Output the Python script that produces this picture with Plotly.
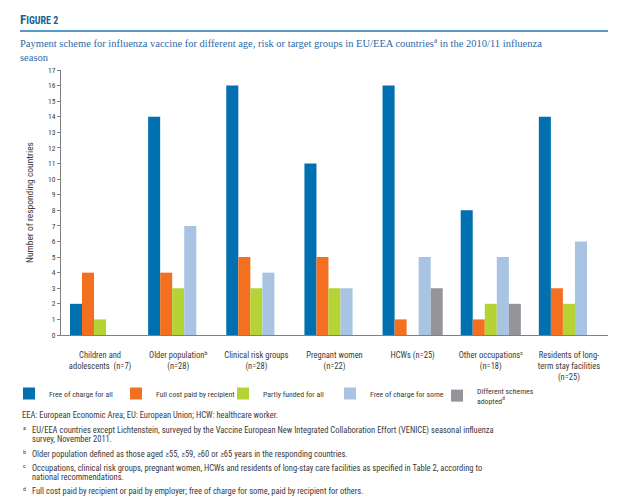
import plotly.graph_objects as go

categories = [
    "Children and<br>adolescents  (n=7)",
    "Older population<sup>b</sup><br>(n=28)",
    "Clinical risk groups<br>(n=28)",
    "Pregnant women<br>(n=22)",
    "HCWs (n=25)",
    "Other occupations<sup>c</sup><br>(n=18)",
    "Residents of long-<br>term stay facilities<br>(n=25)",
]
series_names = [
    "Free of charge for all",
    "Full cost paid by recipient",
    "Partly funded for all",
    "Free of charge for some",
    "Different schemes<br>adopted<sup>d</sup>",
]
free_all = [2, 14, 16, 11, 16, 8, 14]
full_cost = [4, 4, 5, 5, 1, 1, 3]
partly = [1, 3, 3, 3, 0, 2, 2]
free_some = [0, 7, 4, 3, 5, 5, 6]
different = [0, 0, 0, 0, 3, 2, 0]
series_values = [free_all, full_cost, partly, free_some, different]
colors = ["#0070b0", "#f37021", "#b5d334", "#a8c4e2", "#939598"]
y_ticks = list(range(0, 18))

footnote_marks = ["", "a", "", "b", "c", "", "d"]
footnote_texts = [
    "EEA: European Economic Area; EU: European Union; HCW: healthcare worker.",
    "EU/EEA countries except Lichtenstein, surveyed by the Vaccine European New Integrated Collaboration Effort (VENICE) seasonal influenza",
    "survey, November 2011.",
    "Older population defined as those aged ≥55, ≥59, ≥60 or ≥65 years in the responding countries.",
    "Occupations, clinical risk groups, pregnant women, HCWs and residents of long-stay care facilities as specified in Table 2, according to",
    "national recommendations.",
    "Full cost paid by recipient or paid by employer; free of charge for some, paid by recipient for others.",
]

FONT = "Liberation Sans Narrow, Roboto Condensed, Liberation Sans, sans-serif"
TXT = "#3a3a3a"
W, H = 634, 497
H_PLOT = 265.0
def py(Y):
    return (335 - Y) / H_PLOT
def px(X):
    return (X - 61) / 547.0

fig = go.Figure()
for name, vals, col in zip(series_names, series_values, colors):
    fig.add_trace(go.Bar(x=categories, y=vals, name=name, marker=dict(color=col, line=dict(width=0))))

fig.update_layout(
    width=W, height=H,
    margin=dict(l=61, r=26, t=70, b=162, autoexpand=False),
    paper_bgcolor="white", plot_bgcolor="white",
    barmode="group", bargap=0.23, bargroupgap=0,
    font=dict(family=FONT, size=9, color=TXT),
    showlegend=True,
    legend=dict(orientation="h", xref="container", yref="container",
                x=9 / W, y=1 - 379 / H, xanchor="left", yanchor="top",
                font=dict(size=7.8, color=TXT), traceorder="normal",
                itemwidth=30, tracegroupgap=0, entrywidth=62, entrywidthmode="pixels"),
    xaxis=dict(showline=True, linecolor="#808080", linewidth=1, ticks="",
               tickfont=dict(size=8.5, color=TXT), ticklabelstandoff=12,
               showgrid=False, tickangle=0, automargin=False),
    yaxis=dict(range=[0, 17], tickvals=y_ticks, showline=True, linecolor="#808080", linewidth=1,
               ticks="outside", ticklen=3, tickcolor="#808080", automargin=False,
               tickfont=dict(size=7.5, color=TXT), showgrid=False, zeroline=False,
               title=dict(text="Number of responding countries", font=dict(size=9.5, color=TXT), standoff=12)),
)

fig.add_annotation(xref="paper", yref="paper", x=px(18), y=py(29), xanchor="left", yanchor="bottom",
                   text="<b>F<span style='font-size:10px'>IGURE 2</span></b>", showarrow=False,
                   font=dict(family=FONT, size=13, color="#1a5f95"))
fig.add_shape(type="line", xref="paper", yref="paper", x0=px(20), x1=px(608), y0=py(31), y1=py(31),
              line=dict(color="#1f78b8", width=1.5))
fig.add_annotation(xref="paper", yref="paper", x=px(18), y=py(34), xanchor="left", yanchor="top", align="left",
                   text="Payment scheme for influenza vaccine for different age, risk or target groups in EU/EEA countries<sup>a</sup> in the 2010/11 influenza<br>season",
                   showarrow=False, font=dict(family="Liberation Serif, serif", size=10.5, color="#2a6aa5"))

foot_y = [408, 423, 432, 447, 461, 470, 484]
for yy, mark, t in zip(foot_y, footnote_marks, footnote_texts):
    tx = 20 if (mark == "" and t.startswith("EEA")) else 30
    if mark:
        fig.add_annotation(xref="paper", yref="paper", x=px(21), y=py(yy - 1), xanchor="left", yanchor="top",
                           text=mark, showarrow=False, font=dict(size=6, color=TXT))
    fig.add_annotation(xref="paper", yref="paper", x=px(tx), y=py(yy), xanchor="left", yanchor="top", align="left",
                       text=t, showarrow=False, font=dict(size=8.5, color=TXT))

fig.write_html("out.html", config={"displayModeBar": False},
               post_script="document.body.style.margin='0';document.body.style.overflow='hidden';")
